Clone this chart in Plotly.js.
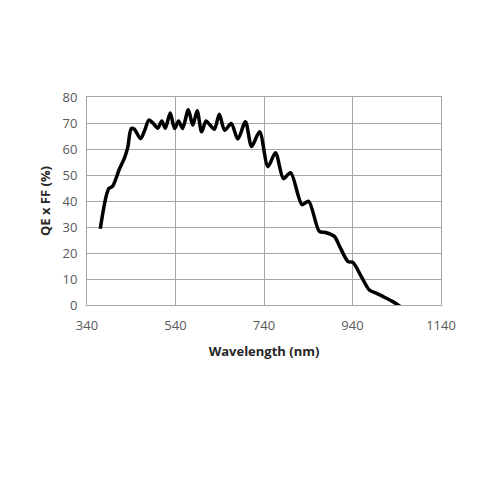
<!DOCTYPE html>
<html><head><meta charset="utf-8">
<script src="https://cdn.plot.ly/plotly-3.0.1.min.js"></script>
<style>body{margin:0;background:#fff}#chart{width:500px;height:500px}</style>
</head><body><div id="chart"></div>
<script>
const wavelength = [370, 389, 398, 413, 425, 432, 440, 447, 461, 470, 480, 490, 500, 509, 517, 528, 538, 547, 556, 569, 579, 589, 599, 609, 618, 628, 639, 651, 666, 681, 698, 712, 730, 749, 766, 784, 800, 826, 841, 865, 879, 899, 911, 930, 941, 960, 978, 994, 1012, 1031, 1048];
const qeff = [29.3, 44.7, 45.7, 52.2, 56.7, 60.5, 67.9, 67.6, 64.0, 67.0, 71.2, 69.8, 68.0, 70.8, 68.0, 73.8, 67.9, 70.8, 67.9, 75.1, 69.2, 74.7, 66.6, 70.8, 69.2, 67.6, 73.4, 67.2, 69.8, 63.8, 70.5, 61.0, 66.6, 53.2, 58.6, 48.6, 50.9, 38.6, 39.9, 28.3, 27.9, 26.4, 22.5, 16.7, 16.4, 10.9, 5.8, 4.5, 3.0, 1.3, -0.6];
const xTicks = [340, 540, 740, 940, 1140];
const yTicks = [0, 10, 20, 30, 40, 50, 60, 70, 80];

const tickFont = {family: 'Open Sans, sans-serif', size: 13, color: '#595959'};
const titleFont = {family: 'Open Sans, sans-serif', size: 13, color: '#262626', weight: 'bold'};

Plotly.newPlot('chart', [{
  x: wavelength, y: qeff, type: 'scatter', mode: 'lines',
  line: {color: '#000', width: 3.5, shape: 'spline', smoothing: 0.8},
  hoverinfo: 'skip'
}], {
  width: 500, height: 500,
  margin: {l: 87, r: 59, t: 97, b: 195},
  paper_bgcolor: '#fff', plot_bgcolor: '#fff',
  showlegend: false,
  xaxis: {
    range: [340, 1140], tickvals: xTicks, ticktext: xTicks.map(String),
    showgrid: true, gridcolor: '#a6a6a6', gridwidth: 1,
    showline: true, linecolor: '#a6a6a6', linewidth: 1, mirror: true,
    zeroline: false, ticks: '', tickfont: tickFont, ticklabelstandoff: 8,
    title: {text: '<b>Wavelength (nm)</b>', font: titleFont, standoff: 14}
  },
  yaxis: {
    range: [0, 80], tickvals: yTicks, ticktext: yTicks.map(String),
    showgrid: true, gridcolor: '#a6a6a6', gridwidth: 1,
    showline: true, linecolor: '#a6a6a6', linewidth: 1, mirror: true,
    zeroline: false, ticks: '', tickfont: tickFont, ticklabelstandoff: 6,
    title: {text: '<b>QE x FF (%)</b>', font: titleFont, standoff: 8}
  }
}, {staticPlot: true});
</script></body></html>
